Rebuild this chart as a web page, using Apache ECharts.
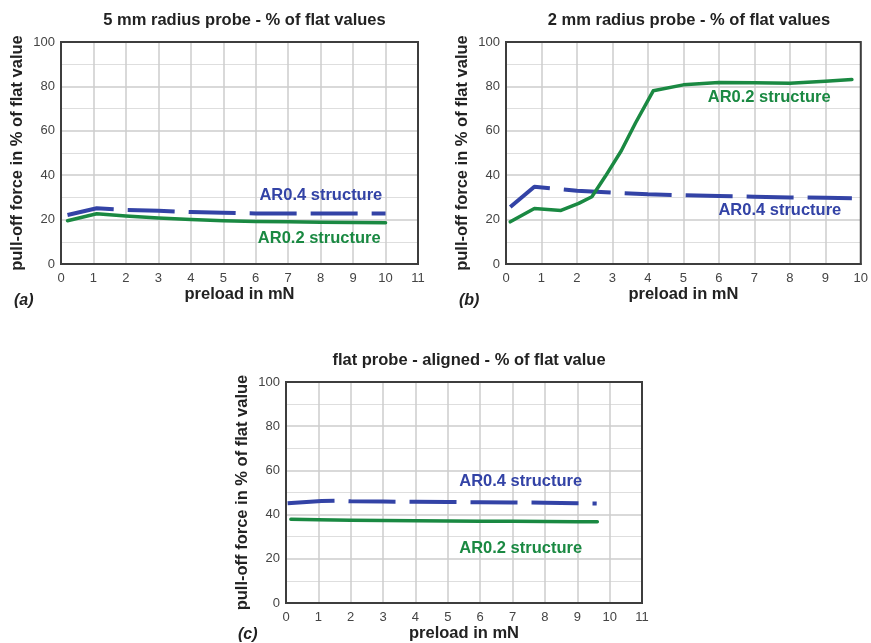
<!DOCTYPE html>
<html>
<head>
<meta charset="utf-8">
<script src="https://cdn.jsdelivr.net/npm/echarts@6/dist/echarts.min.js"></script>
<style>html,body{margin:0;padding:0;background:#fff;}#c{width:871px;height:643px;}</style>
</head>
<body>
<div id="c"></div>
<script>
// ---- data ----
const titles = ['5 mm radius probe - % of flat values', '2 mm radius probe - % of flat values', 'flat probe - aligned - % of flat value'];
const panelTags = ['(a)', '(b)', '(c)'];
const xMaxes = [11, 10, 11];
const yTicks = [0, 20, 40, 60, 80, 100];
const seriesNames = ['AR0.4 structure', 'AR0.2 structure'];

// panel (a) 5 mm radius probe
const a04X = [0.2, 1.1, 2, 3, 4, 5, 6, 7, 8, 9, 10];
const a04Y = [22.1, 25.1, 24.4, 24.0, 23.4, 23.1, 22.8, 22.8, 22.8, 22.8, 22.8];
const a02X = [0.2, 1.1, 2, 3, 4, 5, 6, 7, 8, 9, 10];
const a02Y = [19.5, 22.6, 21.6, 20.7, 20.0, 19.5, 19.2, 19.0, 18.8, 18.7, 18.6];

// panel (b) 2 mm radius probe
const b04X = [0.12, 0.8, 2, 3, 4, 5, 6, 7, 8, 9, 9.75];
const b04Y = [25.7, 34.8, 33.0, 32.2, 31.4, 31.0, 30.6, 30.3, 30.0, 29.8, 29.6];
const b02X = [0.12, 0.8, 1.55, 2.05, 2.42, 2.8, 3.25, 3.65, 4.15, 5, 6, 7, 8, 9, 9.75];
const b02Y = [19.0, 25.0, 24.1, 27.3, 30.3, 39.5, 51.0, 63.5, 78.0, 80.7, 81.8, 81.7, 81.4, 82.3, 83.1];

// panel (c) flat probe aligned
const c04X = [0.05, 1.1, 1.5, 2, 3, 4, 5, 6, 7, 8, 9, 9.6];
const c04Y = [45.1, 46.2, 46.3, 46.0, 45.9, 45.8, 45.7, 45.6, 45.5, 45.4, 45.1, 45.0];
const c02X = [0.15, 1, 2, 3, 4, 5, 6, 7, 8, 9, 9.62];
const c02Y = [37.9, 37.7, 37.4, 37.3, 37.2, 37.1, 37.0, 37.0, 36.9, 36.8, 36.8];

// label anchors (right end of text, vertical centre) in data coords
const label04At = [[9.9, 31], [9.45, 24], [9.15, 54.8]];
const label02At = [[9.85, 11.3], [9.15, 75], [9.15, 24.9]];

// ---- layout / style ----
const FONT = '"Liberation Sans", Arial, Helvetica, sans-serif';
const BLUE = '#3343a6';
const GREEN = '#1a8942';
const grids = [
  {left: 61, top: 42, width: 357, height: 222},
  {left: 506, top: 42, width: 356, height: 222},
  {left: 286, top: 382, width: 356, height: 221}
];
const tagPos = [[9, 288], [454, 288], [233, 622]];

const pairs = (xs, ys) => xs.map((x, i) => [x, ys[i]]);
const dataSets = [
  [pairs(a04X, a04Y), pairs(a02X, a02Y)],
  [pairs(b04X, b04Y), pairs(b02X, b02Y)],
  [pairs(c04X, c04Y), pairs(c02X, c02Y)]
];

const option = {
  backgroundColor: '#fff',
  animation: false,
  title: [],
  grid: [],
  xAxis: [],
  yAxis: [],
  series: []
};

grids.forEach((g, i) => {
  option.grid.push(Object.assign({show: true, borderColor: '#3d3d3d', borderWidth: 2, backgroundColor: 'transparent', z: 3}, g));
  option.title.push({
    text: titles[i], left: g.left + g.width / 2, top: g.top - 35, textAlign: 'center',
    textStyle: {fontFamily: FONT, fontSize: 16.5, fontWeight: 'bold', color: '#222'}
  });
  option.title.push({
    text: panelTags[i], left: tagPos[i][0], top: tagPos[i][1],
    textStyle: {fontFamily: FONT, fontSize: 16, fontWeight: 'bold', fontStyle: 'italic', color: '#222'}
  });
  option.xAxis.push({
    type: 'value', gridIndex: i, min: 0, max: xMaxes[i], interval: 1,
    name: 'preload in mN', nameLocation: 'middle', nameGap: 22,
    nameTextStyle: {fontFamily: FONT, fontSize: 16.5, fontWeight: 'bold', color: '#222'},
    axisLine: {show: true, lineStyle: {color: '#3d3d3d', width: 2}},
    axisTick: {show: false},
    axisLabel: {fontFamily: FONT, fontSize: 13, color: '#444', margin: 8, showMaxLabel: true, showMinLabel: true},
    splitLine: {show: true, lineStyle: {color: '#cdcdcd', width: 1.5}}
  });
  option.yAxis.push({
    type: 'value', gridIndex: i, min: 0, max: 100, interval: 20,
    name: 'pull-off force in % of flat value', nameLocation: 'middle', nameGap: 35,
    nameTextStyle: {fontFamily: FONT, fontSize: 16.5, fontWeight: 'bold', color: '#222'},
    axisLine: {show: true, lineStyle: {color: '#3d3d3d', width: 2}},
    axisTick: {show: false},
    axisLabel: {fontFamily: FONT, fontSize: 13, color: '#444', margin: 6,
      formatter: v => (yTicks.indexOf(v) >= 0 ? String(v) : '')},
    splitLine: {show: true, lineStyle: {color: '#cdcdcd', width: 1.5}},
    minorTick: {show: false, splitNumber: 2},
    minorSplitLine: {show: true, lineStyle: {color: '#dedede', width: 1}}
  });
  const lbl = (txt, color) => ({
    show: true, position: 'inside', align: 'right', verticalAlign: 'middle',
    formatter: txt, fontFamily: FONT, fontSize: 16.5, fontWeight: 'bold', color: color
  });
  option.series.push({
    type: 'line', name: seriesNames[0], xAxisIndex: i, yAxisIndex: i,
    data: dataSets[i][0], showSymbol: false, symbol: 'none', z: 5,
    lineStyle: {color: BLUE, width: 4, type: [47, 14], cap: 'butt', join: 'round'},
    markPoint: {symbol: 'circle', symbolSize: 0, silent: true,
      data: [{coord: label04At[i], label: lbl(seriesNames[0], BLUE)}]}
  });
  option.series.push({
    type: 'line', name: seriesNames[1], xAxisIndex: i, yAxisIndex: i,
    data: dataSets[i][1], showSymbol: false, symbol: 'none', z: 5,
    lineStyle: {color: GREEN, width: 3.5, cap: 'round', join: 'round'},
    markPoint: {symbol: 'circle', symbolSize: 0, silent: true,
      data: [{coord: label02At[i], label: lbl(seriesNames[1], GREEN)}]}
  });
});

const chart = echarts.init(document.getElementById('c'), null, {renderer: 'canvas'});
chart.setOption(option);
</script>
</body>
</html>
